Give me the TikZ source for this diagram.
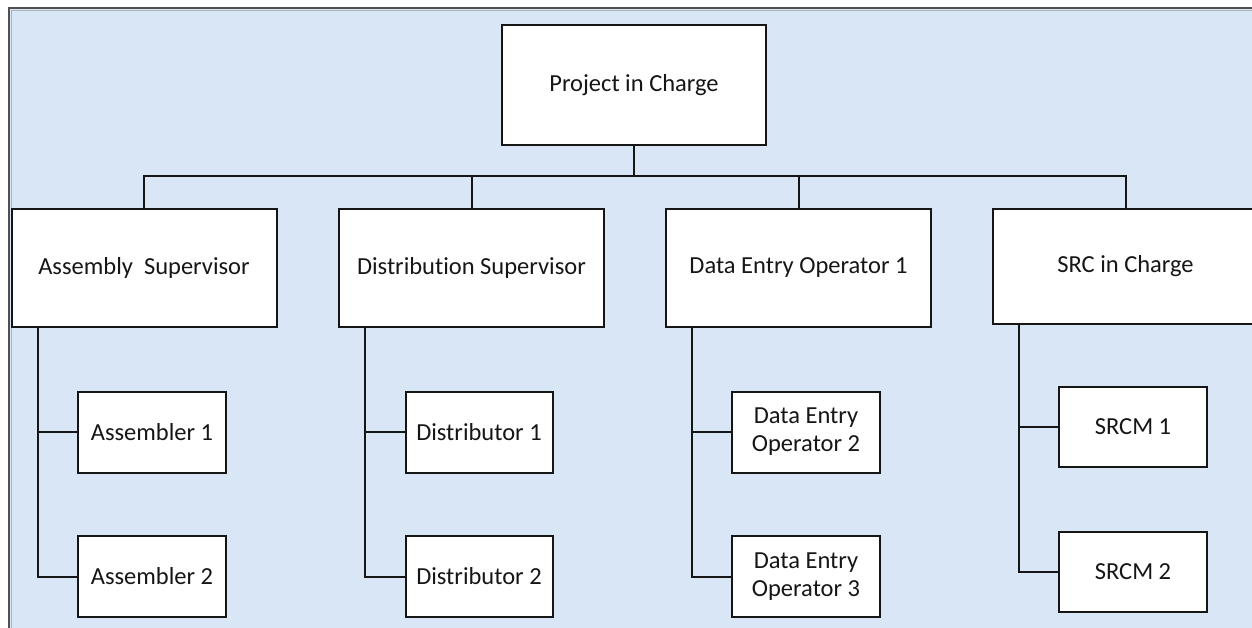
\documentclass[tikz,border=0pt]{standalone}
\usepackage{fontspec}
\setmainfont{Carlito}[Ligatures=NoCommon]
\definecolor{paper}{RGB}{217,230,246}
\definecolor{ink}{RGB}{22,22,22}
\definecolor{frameout}{RGB}{80,80,80}
\definecolor{framein}{RGB}{175,180,188}
\begin{document}
\begin{tikzpicture}[x=1pt,y=-1pt,
  box/.style={draw=ink, line width=2pt, fill=white, inner sep=0pt,
    align=center, text=ink, font=\fontsize{24.5}{28}\selectfont},
  topbox/.style={box, minimum width=264pt, minimum height=120pt},
  midbox/.style={box, minimum width=265pt, minimum height=118pt},
  leafbox/.style={box, minimum width=148pt, minimum height=81pt},
  link/.style={draw=ink, line width=2pt}
]
\useasboundingbox (0,0) rectangle (1252,628);
\clip (0,0) rectangle (1252,628);

% page background and frame
\fill[white] (0,0) rectangle (1252,628);
\fill[paper] (9,8) rectangle (1260,640);
\draw[frameout, line width=1.2pt] (9,640) -- (9,8) -- (1260,8);
\draw[framein, line width=1pt] (11.5,640) -- (11.5,10.5) -- (1260,10.5);

% top level
\node[topbox] (proj) at (634,85) {Project in Charge};

% second level
\node[midbox] (asup) at (144,268) {Assembly\ \ Supervisor};
\node[midbox] (dsup) at (471.5,268) {Distribution Supervisor};
\node[midbox] (deo1) at (798.5,268) {Data Entry Operator 1};
\node[midbox, minimum height=115pt] (src) at (1125.5,266.5) {SRC in Charge};

% third level
\node[leafbox] (asm1) at (152,432) {Assembler 1};
\node[leafbox] (asm2) at (152,576.5) {Assembler 2};
\node[leafbox, minimum width=147pt] (dis1) at (479,432) {Distributor 1};
\node[leafbox, minimum width=147pt] (dis2) at (479,576.5) {Distributor 2};
\node[leafbox] (deo2) at (806,432) {Data Entry\\Operator 2};
\node[leafbox] (deo3) at (806,576.5) {Data Entry\\Operator 3};
\node[leafbox, minimum height=80pt] (srcm1) at (1133,427) {SRCM 1};
\node[leafbox, minimum height=80pt] (srcm2) at (1133,571.5) {SRCM 2};

% bus from the top box to the second level
\coordinate (bus) at (634,176);
\draw[link] (proj.south) -- (bus);
\draw[link] (bus) -| (asup.north);
\draw[link] (bus) -| (dsup.north);
\draw[link] (bus) -| (deo1.north);
\draw[link] (bus) -| (src.north);

% spines down to the third level
\foreach \p/\a/\b in {asup/asm1/asm2, dsup/dis1/dis2, deo1/deo2/deo3, src/srcm1/srcm2}{
  \draw[link] ([xshift=27pt]\p.south west) |- (\a.west);
  \draw[link] ([xshift=27pt]\p.south west) |- (\b.west);
}
\end{tikzpicture}
\end{document}
